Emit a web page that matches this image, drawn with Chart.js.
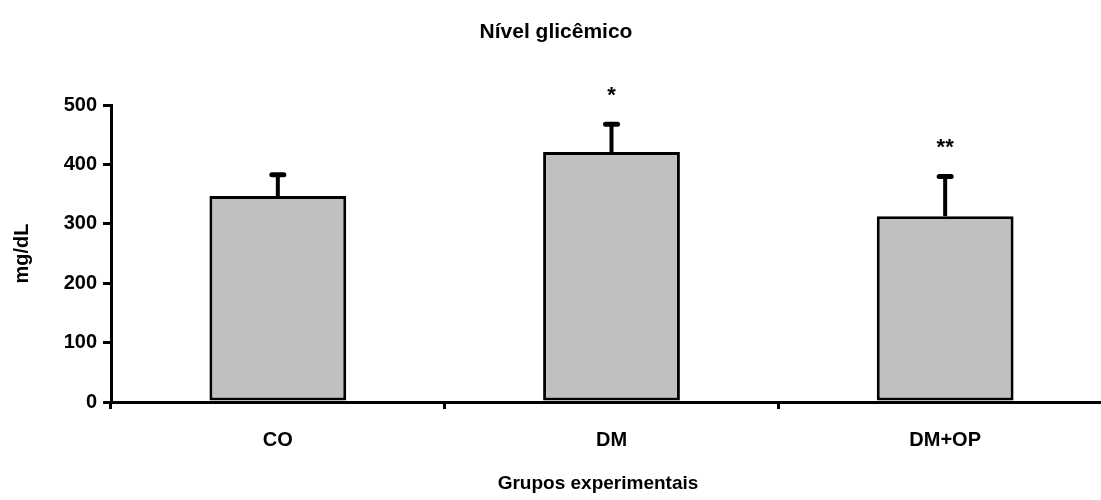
<!DOCTYPE html>
<html lang="pt">
<head>
  <meta charset="UTF-8" />
  <title>Nível glicêmico</title>
  <script src="https://cdn.jsdelivr.net/npm/chart.js"></script>
  <style>
    html, body { margin: 0; padding: 0; background: #fff; overflow: hidden; }
    #wrap { width: 1115px; height: 500px; }
  </style>
</head>
<body>
  <div id="wrap"><canvas id="glic"></canvas></div>
  <script>
    // data
    const grupos = ['CO', 'DM', 'DM+OP'];
    const glicemia = [347, 421, 313];
    const erroPadrao = [36, 47, 67];
    const significancia = ['', '*', '**'];
    const yTicks = [0, 100, 200, 300, 400, 500];
    const tituloX = 'Grupos experimentais';

    const fonte = "'Liberation Sans', Arial, sans-serif";

    // error bars (upper half only), significance marks, x axis title
    const errorBars = {
      id: 'errorBars',
      afterDatasetsDraw(chart) {
        const ctx = chart.ctx;
        const y = chart.scales.y;
        const meta = chart.getDatasetMeta(0);
        ctx.save();
        ctx.strokeStyle = '#000';
        ctx.fillStyle = '#000';
        meta.data.forEach((bar, i) => {
          const top = y.getPixelForValue(glicemia[i]);
          const cap = y.getPixelForValue(glicemia[i] + erroPadrao[i]);
          ctx.lineWidth = 4;
          ctx.beginPath();
          ctx.moveTo(bar.x, top);
          ctx.lineTo(bar.x, cap);
          ctx.stroke();
          ctx.lineWidth = 5;
          ctx.lineCap = 'round';
          ctx.beginPath();
          ctx.moveTo(bar.x - 6, cap);
          ctx.lineTo(bar.x + 6, cap);
          ctx.stroke();
          ctx.lineCap = 'butt';
          if (significancia[i]) {
            ctx.font = 'bold 22px ' + fonte;
            ctx.textAlign = 'center';
            ctx.textBaseline = 'middle';
            ctx.fillText(significancia[i], bar.x, cap - 28);
          }
        });
        // x title sits a bit left of the plot centre in the original
        ctx.font = 'bold 19px ' + fonte;
        ctx.textAlign = 'center';
        ctx.textBaseline = 'middle';
        ctx.fillText(tituloX, 598, 484);
        ctx.restore();
      }
    };

    new Chart(document.getElementById('glic'), {
      type: 'bar',
      data: {
        labels: grupos,
        datasets: [{
          data: glicemia,
          backgroundColor: '#c0c0c0',
          borderColor: '#000',
          borderWidth: 3,
          borderSkipped: false,
          categoryPercentage: 1,
          barPercentage: 0.41
        }]
      },
      options: {
        responsive: true,
        maintainAspectRatio: false,
        animation: false,
        layout: { padding: { top: 0, right: 3, left: 0, bottom: 0 } },
        plugins: {
          legend: { display: false },
          tooltip: { enabled: false },
          title: {
            display: true,
            text: 'Nível glicêmico',
            color: '#000',
            font: { family: fonte, size: 21, weight: 'bold' },
            padding: { top: 20, bottom: 60 }
          }
        },
        scales: {
          x: {
            offset: true,
            afterFit(scale) { scale.height = 98; },
            grid: {
              offset: true,
              drawOnChartArea: false,
              color: '#000',
              lineWidth: 3,
              tickLength: 7
            },
            border: { color: '#000', width: 3 },
            ticks: {
              color: '#000',
              padding: 19,
              font: { family: fonte, size: 20, weight: 'bold' }
            }
          },
          y: {
            min: 0,
            max: 500,
            afterBuildTicks(scale) {
              scale.ticks = yTicks.map(v => ({ value: v }));
            },
            afterFit(scale) { scale.width = 111; },
            grid: {
              drawOnChartArea: false,
              color: '#000',
              lineWidth: 3,
              tickLength: 8
            },
            border: { color: '#000', width: 3 },
            ticks: {
              color: '#000',
              padding: 6,
              font: { family: fonte, size: 20, weight: 'bold' }
            },
            title: {
              display: true,
              text: 'mg/dL',
              color: '#000',
              font: { family: fonte, size: 20, weight: 'bold' },
              padding: { top: 10, bottom: 10 }
            }
          }
        }
      },
      plugins: [errorBars]
    });
  </script>
</body>
</html>
